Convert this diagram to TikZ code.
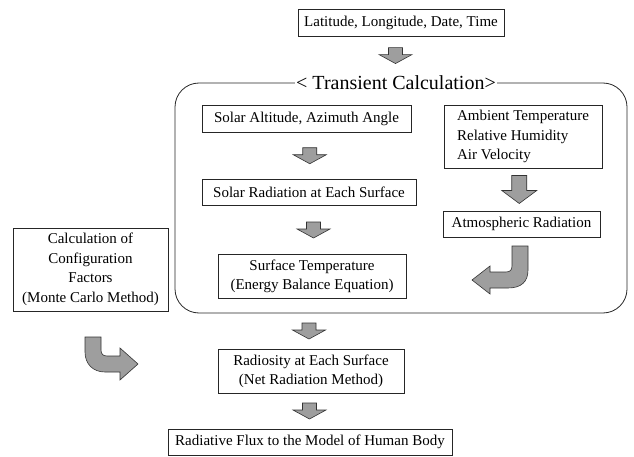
\documentclass[tikz,border=0pt]{standalone}
\usepackage{fontspec}
\setmainfont{Liberation Serif}
\usetikzlibrary{calc}
\begin{document}
\begin{tikzpicture}[x=1pt,y=-1pt,
  box/.style={draw=black!85, line width=0.7pt, inner sep=0pt, font=\fontsize{15}{19}\selectfont, align=center},
  blockarrow/.style={draw=black!80, line width=0.6pt, fill=black!38},
  downarrow/.pic={\path[blockarrow] (-7,-8) -- (7,-8) -- (7,-1) -- (16.5,-1) -- (0,8) -- (-16.5,-1) -- (-7,-1) -- cycle;},
  bigdown/.pic={\path[blockarrow] (-7.5,-14) -- (7.5,-14) -- (7.5,1) -- (17.5,1) -- (0,14) -- (-17.5,1) -- (-7.5,1) -- cycle;},
]
\useasboundingbox (0,0) rectangle (634,457);
% top
\node[box, minimum width=206, minimum height=27] (top) at (401,22.5) {Latitude, Longitude, Date, Time};
% transient frame
\node[draw=black!85, line width=0.8pt, rounded corners=24, minimum width=452, minimum height=230] (tc) at (401,198) {};
\node[fill=white, inner xsep=1pt, inner ysep=1pt, font=\fontsize{20}{22}\selectfont] (title) at (396,83) {< Transient Calculation>};
\pic at ($(top.south)!0.5!(title.north)+(-3,0)$) {downarrow};
% left column
\node[box, minimum width=209, minimum height=27] (sa) at (306.5,118.5) {Solar Altitude, Azimuth Angle};
\node[box, minimum width=214, minimum height=26] (sr) at (309,192.5) {Solar Radiation at Each Surface};
\node[box, minimum width=188, minimum height=44] (st) at (312,276.5) {Surface Temperature\\(Energy Balance Equation)};
\pic at ($(sa.south)!0.5!(sr.north)+(2,0)$) {downarrow};
\pic at ($(sr.south)!0.5!(st.north)+(3,0)$) {downarrow};
% right column
\node[box, align=left, font=\fontsize{15}{19.5}\selectfont, minimum width=158, minimum height=63] (amb) at (523,136.5) {Ambient Temperature\\Relative Humidity\\Air Velocity};
\node[box, minimum width=157, minimum height=26] (atm) at (521.5,224) {Atmospheric Radiation};
\pic at ($(amb.south)!0.5!(atm.north)+(-3,0)$) {bigdown};
% curved arrow right
\path[blockarrow] (512,246) -- (528,246) -- (528,270)
  .. controls (528,282) and (521,288) .. (508,288) -- (490,288) -- (490,294) -- (472,280)
  -- (490,266) -- (490,272) -- (506,272) .. controls (510,272) and (512,270) .. (512,266) -- cycle;
% config
\node[box, font=\fontsize{15}{19.5}\selectfont, minimum width=155, minimum height=83] (cfg) at (90.5,269.5) {Calculation of\\Configuration\\Factors\\(Monte Carlo Method)};
% curved arrow left
\path[blockarrow] (85,337) -- (101,337) -- (101,350) .. controls (101,354) and (103,356) .. (107,356)
  -- (120,356) -- (120,348) -- (138,364) -- (120,380) -- (120,372) -- (105,372)
  .. controls (93,372) and (85,364) .. (85,352) -- cycle;
% bottom
\node[box, minimum width=186, minimum height=44] (rad) at (311,371) {Radiosity at Each Surface\\(Net Radiation Method)};
\node[box, minimum width=284, minimum height=26] (flux) at (310,442) {Radiative Flux to the Model of Human Body};
\pic at ($(tc.south -| rad.north)!0.5!(rad.north)+(-2,0)$) {downarrow};
\pic at ($(rad.south)!0.5!(flux.north)+(-1,0)$) {downarrow};
\end{tikzpicture}
\end{document}
